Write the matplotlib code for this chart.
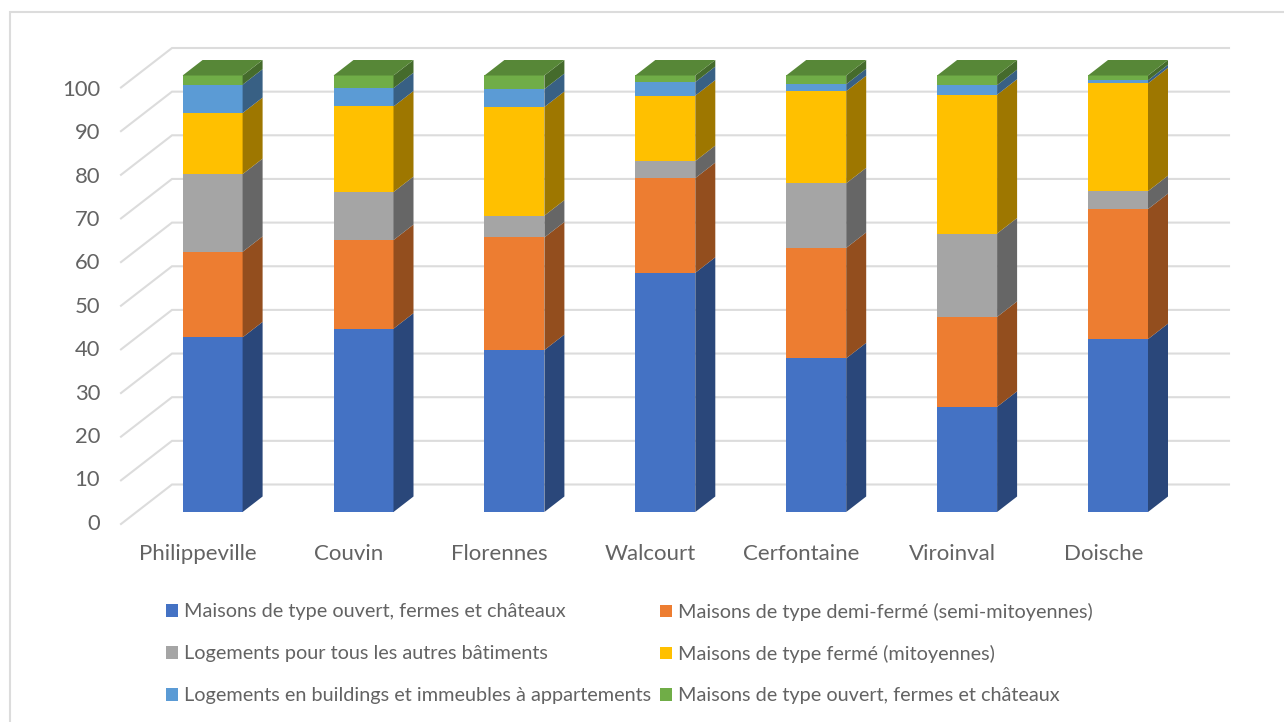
import matplotlib
matplotlib.use("Agg")
import matplotlib.pyplot as plt
from matplotlib.patches import Polygon, Rectangle, Patch

plt.rcParams['font.family'] = ['Lato', 'DejaVu Sans']

communes = ["Philippeville", "Couvin", "Florennes", "Walcourt", "Cerfontaine", "Viroinval", "Doische"]
ticks = [0, 10, 20, 30, 40, 50, 60, 70, 80, 90, 100]

ouvert = [40.0, 42.0, 37.1, 54.8, 35.2, 24.1, 39.6]
demi_ferme = [19.6, 20.3, 25.8, 21.7, 25.3, 20.6, 29.8]
autres = [17.8, 11.0, 5.0, 3.9, 14.8, 19.1, 4.1]
ferme = [14.0, 19.6, 24.9, 15.0, 21.1, 31.8, 24.7]
buildings = [6.5, 4.2, 4.1, 3.1, 1.6, 2.2, 0.7]
ouvert2 = [2.1, 2.9, 3.1, 1.5, 2.0, 2.2, 1.1]

series = [ouvert, demi_ferme, autres, ferme, buildings, ouvert2]
labels = ["Maisons de type ouvert, fermes et châteaux",
          "Maisons de type demi-fermé (semi-mitoyennes)",
          "Logements pour tous les autres bâtiments",
          "Maisons de type fermé (mitoyennes)",
          "Logements en buildings et immeubles à appartements",
          "Maisons de type ouvert, fermes et châteaux"]
colors = ["#4472C4", "#ED7D31", "#A5A5A5", "#FFC000", "#5B9BD5", "#70AD47"]

text_color = "#636363"
grid_color = "#DCDCDC"

# pixel layout of the reference
W, H = 1284, 722
x0_px, step_px = 212.6, 150.9       # centre of first bar, distance between bars
y0_px, unit_px = 512, 4.365         # y=0 of the bars, pixels per percent
bar_width = 60 / step_px
depth_x, depth_y = 20 / step_px, 15.5 / unit_px   # oblique depth of a bar


def shade(color, factor):
    r, g, b = matplotlib.colors.to_rgb(color)
    return (r * factor, g * factor, b * factor)


fig = plt.figure(figsize=(W / 100, H / 100), dpi=100)
ax = fig.add_axes([0, 0, 1, 1])
ax.set_xlim(-x0_px / step_px, (W - x0_px) / step_px)
ax.set_ylim((y0_px - H) / unit_px, y0_px / unit_px)
ax.axis("off")

# chart frame, cut off by the right and bottom edge of the picture
fig.add_artist(Rectangle((10 / W, -0.02), 1.02, 1 - 12 / H + 0.02, transform=fig.transFigure,
                         fill=False, edgecolor=grid_color, linewidth=1.5))

# back wall gridlines and the diagonals on the side wall
wall_x = (172 - x0_px) / step_px
front_x = (121 - x0_px) / step_px
end_x = (1229 - x0_px) / step_px
wall_dy = (y0_px - 484.5) / unit_px
front_dy = (y0_px - 524) / unit_px
for t in ticks:
    ax.plot([front_x, wall_x, end_x], [t + front_dy, t + wall_dy, t + wall_dy],
            color=grid_color, linewidth=1.5, zorder=1, solid_joinstyle="miter")
    ax.text((100 - x0_px) / step_px, t * 0.994 + front_dy + 0.05, str(t), ha="right", va="center",
            fontsize=15.8, color=text_color)

# stacked bars with side and top faces
bottoms = [0] * len(communes)
for values, color in zip(series, colors):
    ax.bar(range(len(communes)), values, bottom=bottoms, width=bar_width, color=color, zorder=3)
    for i, v in enumerate(values):
        right = i + bar_width / 2
        b = bottoms[i]
        ax.add_patch(Polygon([(right, b), (right + depth_x, b + depth_y),
                              (right + depth_x, b + v + depth_y), (right, b + v)],
                             closed=True, facecolor=shade(color, 0.62), edgecolor="none", zorder=3))
    bottoms = [b + v for b, v in zip(bottoms, values)]

# top face of each bar takes the colour of the last series
for i, top in enumerate(bottoms):
    left = i - bar_width / 2
    right = i + bar_width / 2
    ax.add_patch(Polygon([(left, top), (right, top), (right + depth_x, top + depth_y),
                          (left + depth_x, top + depth_y)],
                         closed=True, facecolor=shade(colors[-1], 0.78), edgecolor="none", zorder=3))

for i, name in enumerate(communes):
    ax.text(i - 0.098, (y0_px - 554) / unit_px, name, ha="center", va="center",
            fontsize=16, color=text_color)

# one legend per entry, a shared legend lets the rows drift with the text height
legend_cols = [166, 660]
legend_rows = [612, 654, 696]
for k, label in enumerate(labels):
    leg = ax.legend(handles=[Patch(facecolor=colors[k], label=label)], loc="center left",
                    bbox_to_anchor=(legend_cols[k % 2] / W, 1 - legend_rows[k // 2] / H),
                    bbox_transform=fig.transFigure, frameon=False, fontsize=14.3,
                    labelcolor=text_color, handlelength=0.62, handleheight=0.62, handletextpad=0.3,
                    borderaxespad=0, borderpad=0)
    ax.add_artist(leg)
ax.legend_ = None  # already added above, otherwise the last one is drawn twice

fig.savefig("out.png", dpi=100)
